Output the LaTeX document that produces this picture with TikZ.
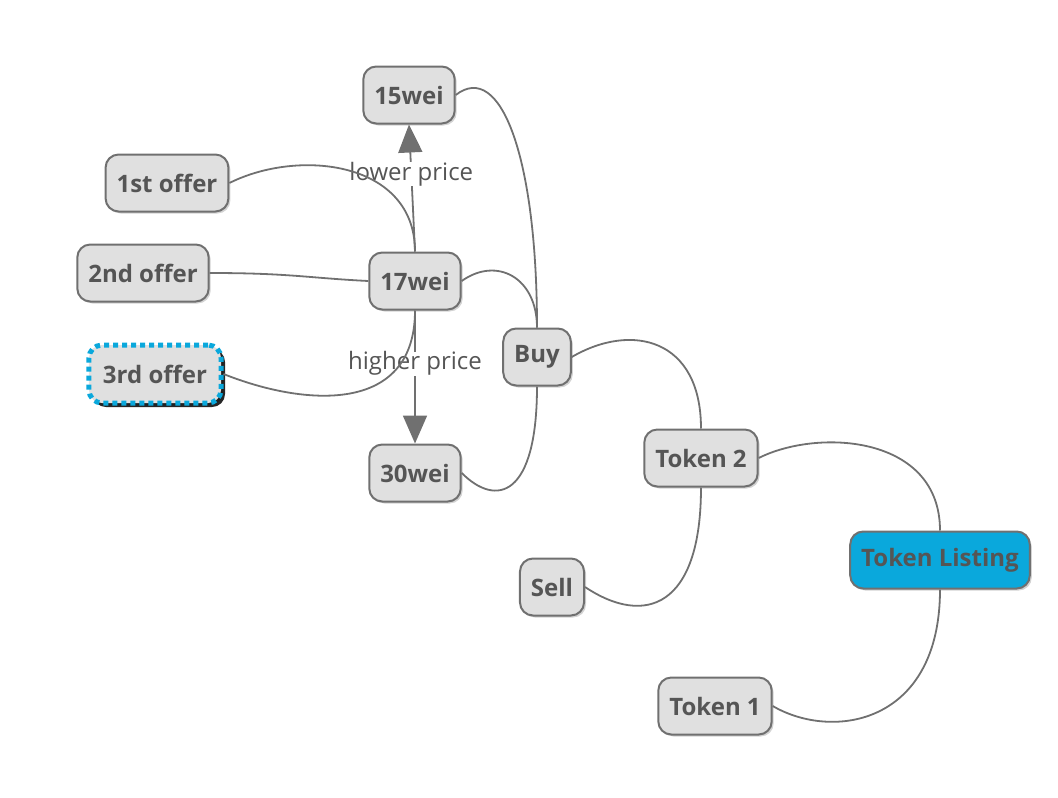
\documentclass[tikz,border=0pt]{standalone}
\usepackage{fontspec}
\setmainfont{Open Sans}
\usetikzlibrary{arrows.meta,shadows}
\definecolor{ink}{HTML}{555555}
\definecolor{edge}{HTML}{707070}
\definecolor{boxfill}{HTML}{E0E0E0}
\definecolor{sky}{HTML}{0AA8DC}

\begin{document}
\begin{tikzpicture}[x=1pt, y=-1pt,
  topic/.style={draw=edge, fill=boxfill, rounded corners=13pt, line width=2pt,
    minimum height=57pt, inner xsep=11pt, text=ink,
    font=\fontsize{24}{28}\selectfont\bfseries,
    drop shadow={shadow xshift=2pt, shadow yshift=-2pt, opacity=0.35}},
  chosen/.style={draw=sky, line width=5pt, dash pattern=on 5pt off 4pt,
    inner xsep=14pt, minimum height=58pt,
    drop shadow={shadow xshift=4pt, shadow yshift=-4pt, fill=black, opacity=0.85}},
  link/.style={draw=edge, line width=1.8pt},
  move/.style={link, -{Triangle[length=28pt, width=24pt]}},
  tag/.style={fill=white, text=ink, inner xsep=1pt, inner ysep=0pt,
    font=\fontsize{24}{28}\selectfont}]
  \useasboundingbox (0,0) rectangle (1058,798);

  % topics
  \node[topic, fill=sky] (list) at (940,560) {Token Listing};
  \node[topic] (tok2) at (701,458) {Token 2};
  \node[topic] (tok1) at (715,706) {Token 1};
  \node[topic] (sell) at (552,587) {Sell};
  \node[topic] (buy) at (537,357) {Buy};
  \node[topic] (w15) at (409,95) {15wei};
  \node[topic] (w17) at (415,281) {17wei};
  \node[topic] (w30) at (415,473) {30wei};
  \node[topic] (off1) at (167,183) {1st offer};
  \node[topic] (off2) at (143,273) {2nd offer};
  \node[topic, chosen] (off3) at (155,374) {3rd offer};

  % price moves
  \draw[move] (w17.north) -- node[tag, pos=0.61] {lower price} (w15.south);
  \draw[move] (w17.south) -- node[tag, pos=0.40] {higher price} (w30.north);

  % branches
  \draw[link] (tok2.east) .. controls +(60,-30) and +(0,-95) .. (list.north);
  \draw[link] (tok1.east) .. controls +(60,35) and +(0,135) .. (list.south);
  \draw[link] (buy.east) .. controls +(60,-35) and +(0,-90) .. (tok2.north);
  \draw[link] (sell.east) .. controls +(60,40) and +(0,120) .. (tok2.south);
  \draw[link] (w15.east) .. controls +(45,-35) and +(0,-170) .. (buy.north);
  \draw[link] (w17.east) .. controls +(35,-25) and +(0,-50) .. (buy.north);
  \draw[link] (w30.east) .. controls +(35,35) and +(0,110) .. (buy.south);
  \draw[link] (off1.east) .. controls +(70,-35) and +(0,-90) .. (w17.north);
  \draw[link] (off2.east) .. controls +(80,0) and +(-60,-3) .. (w17.west);
  \draw[link] (off3.east) .. controls +(80,32) and +(0,105) .. (w17.south);
\end{tikzpicture}
\end{document}
